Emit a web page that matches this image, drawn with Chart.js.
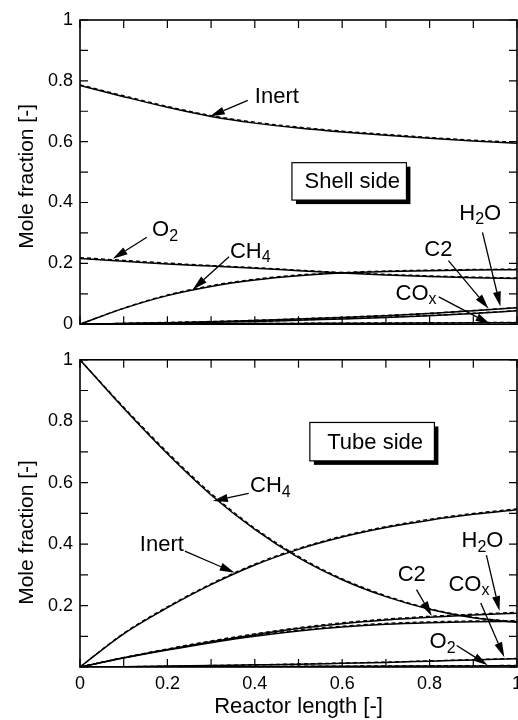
<!DOCTYPE html>
<html>
<head>
<meta charset="utf-8">
<script src="https://cdn.jsdelivr.net/npm/chart.js@4.4.1/dist/chart.umd.min.js"></script>
<style>
  html, body { margin: 0; padding: 0; background: #fff; width: 518px; height: 720px; overflow: hidden; }
  .panel { position: absolute; left: 0; }
  #shellPanel { top: 0; }
  #tubePanel { top: 342px; }
</style>
</head>
<body>
<div class="panel" id="shellPanel"><canvas id="shell" width="540" height="342"></canvas></div>
<div class="panel" id="tubePanel"><canvas id="tube" width="540" height="378"></canvas></div>
<script>
// Axial positions along the reactor (dimensionless)
const reactorLength = [0, 0.1, 0.2, 0.3, 0.4, 0.5, 0.6, 0.7, 0.8, 0.9, 1.0];

// Shell side mole fractions: solid = model, dashed = comparison profile
const shellInert    = [0.785, 0.748, 0.713, 0.683, 0.661, 0.645, 0.632, 0.621, 0.611, 0.602, 0.595];
const shellInertAlt = [0.787, 0.751, 0.716, 0.686, 0.664, 0.648, 0.635, 0.624, 0.614, 0.605, 0.598];
const shellO2       = [0.216, 0.207, 0.198, 0.191, 0.184, 0.176, 0.168, 0.162, 0.157, 0.153, 0.150];
const shellO2Alt    = [0.219, 0.210, 0.201, 0.193, 0.186, 0.178, 0.170, 0.164, 0.159, 0.155, 0.152];
const shellCH4      = [0, 0.052, 0.094, 0.124, 0.145, 0.159, 0.168, 0.173, 0.176, 0.178, 0.179];
const shellCH4Alt   = [0, 0.053, 0.096, 0.127, 0.148, 0.162, 0.170, 0.175, 0.178, 0.180, 0.181];
const shellH2O      = [0, 0.002, 0.005, 0.008, 0.012, 0.017, 0.022, 0.028, 0.035, 0.044, 0.054];
const shellH2OAlt   = [0, 0.003, 0.006, 0.009, 0.013, 0.018, 0.023, 0.029, 0.036, 0.045, 0.055];
const shellC2       = [0, 0.002, 0.004, 0.006, 0.009, 0.013, 0.017, 0.022, 0.028, 0.035, 0.044];
const shellC2Alt    = [0, 0.002, 0.005, 0.007, 0.010, 0.014, 0.018, 0.023, 0.029, 0.036, 0.045];
const shellCOx      = [0, 0.0005, 0.001, 0.0015, 0.002, 0.0025, 0.003, 0.0035, 0.004, 0.0045, 0.005];
const shellCOxAlt   = [0, 0.0006, 0.0012, 0.0018, 0.0024, 0.003, 0.0036, 0.0042, 0.0048, 0.0054, 0.006];

// Tube side mole fractions
const tubeCH4       = [1.0, 0.842, 0.694, 0.560, 0.448, 0.356, 0.284, 0.229, 0.188, 0.160, 0.145];
const tubeCH4Alt    = [1.0, 0.846, 0.699, 0.565, 0.452, 0.360, 0.287, 0.232, 0.190, 0.162, 0.147];
const tubeInert     = [0, 0.108, 0.193, 0.268, 0.332, 0.383, 0.423, 0.454, 0.478, 0.497, 0.512];
const tubeInertAlt  = [0, 0.110, 0.196, 0.271, 0.335, 0.386, 0.426, 0.457, 0.481, 0.500, 0.515];
const tubeH2O       = [0, 0.030, 0.057, 0.082, 0.105, 0.125, 0.141, 0.153, 0.162, 0.169, 0.175];
const tubeH2OAlt    = [0, 0.031, 0.059, 0.085, 0.108, 0.128, 0.144, 0.156, 0.165, 0.172, 0.178];
const tubeC2        = [0, 0.029, 0.055, 0.079, 0.100, 0.117, 0.130, 0.139, 0.144, 0.147, 0.148];
const tubeC2Alt     = [0, 0.030, 0.057, 0.082, 0.103, 0.120, 0.133, 0.142, 0.147, 0.150, 0.151];
const tubeO2        = [0, 0.001, 0.003, 0.005, 0.007, 0.009, 0.012, 0.015, 0.019, 0.023, 0.027];
const tubeO2Alt     = [0, 0.001, 0.003, 0.005, 0.007, 0.010, 0.013, 0.016, 0.020, 0.024, 0.028];
const tubeCOx       = [0, 0.0004, 0.0008, 0.0012, 0.0016, 0.002, 0.0024, 0.0028, 0.0032, 0.0036, 0.004];
const tubeCOxAlt    = [0, 0.0005, 0.001, 0.0015, 0.002, 0.0025, 0.003, 0.0035, 0.004, 0.0045, 0.005];

// Tick labels
const xTickLabels      = ['0', '0.2', '0.4', '0.6', '0.8', '1'];
const shellYTickLabels = ['0', '0.2', '0.4', '0.6', '0.8', '1'];
const tubeYTickLabels  = ['0.2', '0.4', '0.6', '0.8', '1'];

const FAMILY = '"Liberation Sans", Arial, Helvetica, sans-serif';
Chart.defaults.font.family = FAMILY;
Chart.defaults.color = '#000';

const toPoints = ys => reactorLength.map((x, i) => ({ x, y: ys[i] }));

const solidLine = { borderColor: '#000', borderWidth: 1.5, pointRadius: 0, fill: false, cubicInterpolationMode: 'monotone' };
const dashedLine = { ...solidLine, borderWidth: 1.3, borderDash: [4, 3] };

function buildDatasets(series) {
  const out = [];
  series.forEach(([name, solid, dashed]) => {
    out.push({ label: name, data: toPoints(solid), ...solidLine });
    out.push({ label: name + ' (dashed)', data: toPoints(dashed), ...dashedLine });
  });
  return out;
}

function labelFrom(list) {
  return value => {
    const hit = list.find(s => Math.abs(Number(s) - value) < 1e-6);
    return hit === undefined ? '' : hit;
  };
}

// Draws a label with optional one-character subscripts written as "_x"
function drawRich(ctx, str, x, y, size) {
  let cx = x;
  ctx.textAlign = 'left';
  ctx.textBaseline = 'middle';
  for (let i = 0; i < str.length; i++) {
    let ch = str[i];
    let sub = false;
    if (ch === '_') { sub = true; ch = str[++i]; }
    const fs = sub ? Math.round(size * 0.72) : size;
    ctx.font = fs + 'px ' + FAMILY;
    ctx.fillText(ch, cx, sub ? y + 6 : y);
    cx += ctx.measureText(ch).width;
  }
}

function drawArrow(ctx, x0, y0, x1, y1) {
  const ang = Math.atan2(y1 - y0, x1 - x0);
  const L = 15, W = 4;
  const bx = x1 - L * Math.cos(ang), by = y1 - L * Math.sin(ang);
  ctx.beginPath();
  ctx.moveTo(x0, y0);
  ctx.lineTo(bx, by);
  ctx.stroke();
  ctx.beginPath();
  ctx.moveTo(x1, y1);
  ctx.lineTo(bx - W * Math.sin(ang), by + W * Math.cos(ang));
  ctx.lineTo(bx + W * Math.sin(ang), by - W * Math.cos(ang));
  ctx.closePath();
  ctx.fill();
}

// Frame, inward ticks on all four sides, caption box, arrow labels and y title
const framePlugin = {
  id: 'frame',
  afterDraw(chart, args, opts) {
    const { ctx, chartArea: a, scales: { x, y } } = chart;
    ctx.save();
    ctx.strokeStyle = '#000';
    ctx.fillStyle = '#000';

    // ticks
    ctx.lineWidth = 1.2;
    ctx.beginPath();
    x.ticks.forEach(t => {
      const px = x.getPixelForValue(t.value);
      ctx.moveTo(px, a.bottom); ctx.lineTo(px, a.bottom - 8);
      ctx.moveTo(px, a.top); ctx.lineTo(px, a.top + 8);
    });
    y.ticks.forEach(t => {
      const py = y.getPixelForValue(t.value);
      ctx.moveTo(a.left, py); ctx.lineTo(a.left + 8, py);
      ctx.moveTo(a.right, py); ctx.lineTo(a.right - 8, py);
    });
    ctx.stroke();

    // frame
    ctx.lineWidth = 1.6;
    ctx.strokeRect(a.left, a.top, a.right - a.left, a.bottom - a.top);

    // caption box with drop shadow
    const b = opts.box;
    const l = x.getPixelForValue(b.x0), r = x.getPixelForValue(b.x1);
    const t = y.getPixelForValue(b.y1), bt = y.getPixelForValue(b.y0);
    ctx.fillStyle = '#000';
    ctx.fillRect(l + 4, t + 4, r - l, bt - t);
    ctx.fillStyle = '#fff';
    ctx.fillRect(l, t, r - l, bt - t);
    ctx.lineWidth = 1.2;
    ctx.strokeRect(l, t, r - l, bt - t);
    ctx.fillStyle = '#000';
    ctx.font = '22px ' + FAMILY;
    ctx.textAlign = 'center';
    ctx.textBaseline = 'middle';
    ctx.fillText(b.text, (l + r) / 2 + 3, (t + bt) / 2 + 1);

    // arrow labels
    ctx.lineWidth = 1.3;
    opts.notes.forEach(n => {
      drawRich(ctx, n.text, x.getPixelForValue(n.at[0]), y.getPixelForValue(n.at[1]), 22);
      drawArrow(ctx,
        x.getPixelForValue(n.from[0]), y.getPixelForValue(n.from[1]),
        x.getPixelForValue(n.tip[0]), y.getPixelForValue(n.tip[1]));
    });

    // y axis title
    ctx.save();
    ctx.translate(33, y.getPixelForValue(opts.yTitleAt));
    ctx.rotate(-Math.PI / 2);
    ctx.font = '21px ' + FAMILY;
    ctx.textAlign = 'center';
    ctx.textBaseline = 'alphabetic';
    ctx.fillText('Mole fraction [-]', 0, 0);
    ctx.restore();

    ctx.restore();
  }
};

function makePanel(id, datasets, cfg) {
  return new Chart(document.getElementById(id), {
    type: 'line',
    data: { datasets },
    options: {
      responsive: false,
      animation: false,
      events: [],
      layout: { padding: { left: 0, right: 23, top: cfg.padTop, bottom: cfg.padBottom } },
      plugins: {
        legend: { display: false },
        tooltip: { enabled: false },
        frame: { box: cfg.box, notes: cfg.notes, yTitleAt: cfg.yTitleAt }
      },
      scales: {
        x: {
          type: 'linear', min: 0, max: 1,
          grid: { display: false, drawTicks: false },
          border: { display: false },
          ticks: {
            display: cfg.showX, stepSize: 0.1, autoSkip: false, maxRotation: 0, padding: 6,
            font: { size: 18 }, color: '#000', callback: labelFrom(xTickLabels)
          },
          title: {
            display: cfg.showX, text: 'Reactor length [-]',
            font: { size: 22 }, color: '#000', padding: { top: 0, bottom: 0 }
          },
          afterFit(s) { s.height = cfg.xHeight; }
        },
        y: {
          type: 'linear', min: 0, max: 1,
          grid: { display: false, drawTicks: false },
          border: { display: false },
          ticks: {
            stepSize: 0.1, autoSkip: false, padding: 7,
            font: { size: 18 }, color: '#000', callback: labelFrom(cfg.yLabels)
          },
          afterFit(s) { s.width = 80; }
        }
      }
    },
    plugins: [framePlugin]
  });
}

makePanel('shell', buildDatasets([
  ['Inert', shellInert, shellInertAlt],
  ['O2', shellO2, shellO2Alt],
  ['CH4', shellCH4, shellCH4Alt],
  ['H2O', shellH2O, shellH2OAlt],
  ['C2', shellC2, shellC2Alt],
  ['COx', shellCOx, shellCOxAlt]
]), {
  padTop: 20, padBottom: 11, xHeight: 0, showX: false,
  yLabels: shellYTickLabels, yTitleAt: 0.486,
  box: { text: 'Shell side', x0: 0.485, x1: 0.747, y0: 0.408, y1: 0.531 },
  notes: [
    { text: 'Inert', at: [0.400, 0.746], from: [0.384, 0.736], tip: [0.297, 0.683] },
    { text: 'O_2',   at: [0.165, 0.309], from: [0.153, 0.286], tip: [0.075, 0.215] },
    { text: 'CH_4',  at: [0.343, 0.238], from: [0.341, 0.222], tip: [0.258, 0.114] },
    { text: 'H_2O',  at: [0.868, 0.363], from: [0.921, 0.302], tip: [0.962, 0.058] },
    { text: 'C2',    at: [0.788, 0.244], from: [0.843, 0.209], tip: [0.935, 0.051] },
    { text: 'CO_x',  at: [0.722, 0.100], from: [0.821, 0.090], tip: [0.939, 0.000] }
  ]
});

makePanel('tube', buildDatasets([
  ['CH4', tubeCH4, tubeCH4Alt],
  ['Inert', tubeInert, tubeInertAlt],
  ['H2O', tubeH2O, tubeH2OAlt],
  ['C2', tubeC2, tubeC2Alt],
  ['O2', tubeO2, tubeO2Alt],
  ['COx', tubeCOx, tubeCOxAlt]
]), {
  padTop: 12, padBottom: 0, xHeight: 53, showX: true,
  yLabels: tubeYTickLabels, yTitleAt: 0.438,
  box: { text: 'Tube side', x0: 0.526, x1: 0.811, y0: 0.671, y1: 0.796 },
  notes: [
    { text: 'CH_4',  at: [0.389, 0.588], from: [0.386, 0.565], tip: [0.304, 0.540] },
    { text: 'Inert', at: [0.137, 0.396], from: [0.240, 0.377], tip: [0.354, 0.307] },
    { text: 'H_2O',  at: [0.873, 0.409], from: [0.930, 0.364], tip: [0.960, 0.182] },
    { text: 'C2',    at: [0.727, 0.300], from: [0.770, 0.252], tip: [0.805, 0.166] },
    { text: 'CO_x',  at: [0.843, 0.268], from: [0.917, 0.208], tip: [0.971, 0.032] },
    { text: 'O_2',   at: [0.800, 0.081], from: [0.862, 0.070], tip: [0.933, 0.006] }
  ]
});
</script>
</body>
</html>
